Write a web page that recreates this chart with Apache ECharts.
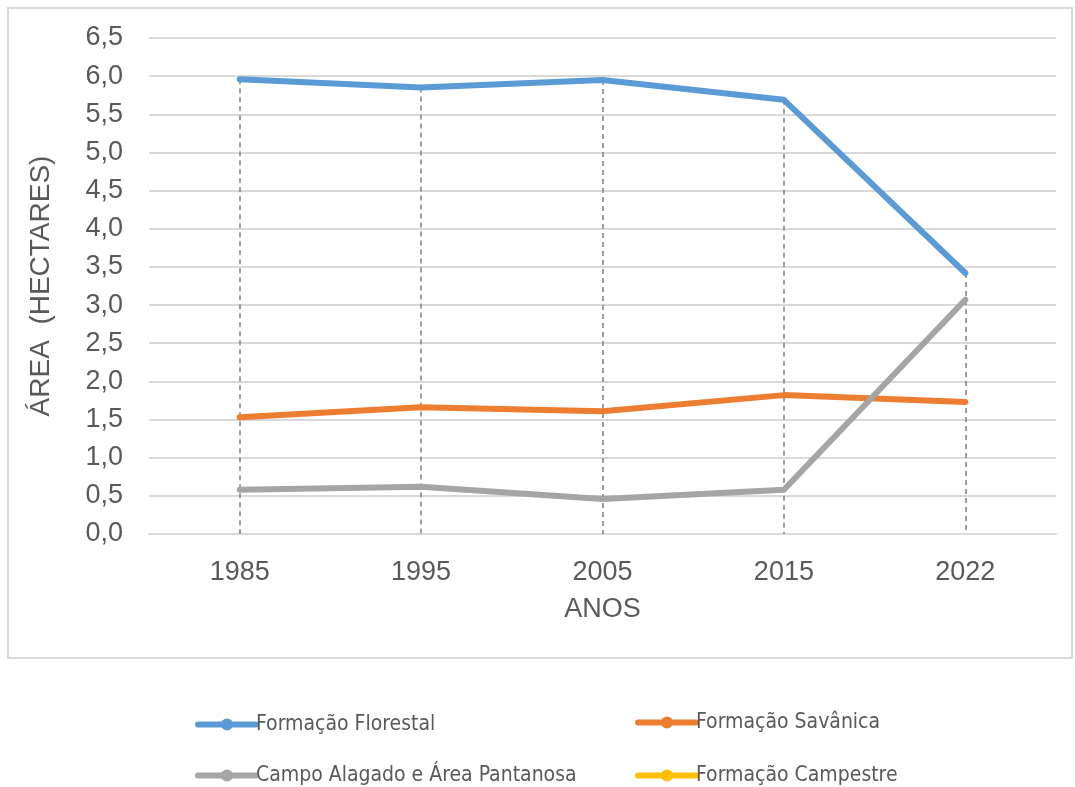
<!DOCTYPE html>
<html>
<head>
<meta charset="utf-8">
<script src="https://cdn.jsdelivr.net/npm/echarts@6/dist/echarts.min.js"></script>
<style>
  html, body { margin: 0; padding: 0; background: #fff; }
  #chart { width: 1075px; height: 787px; }
</style>
</head>
<body>
<div id="chart"></div>
<script>
// data
var anos = ["1985", "1995", "2005", "2015", "2022"];
var florestal = [5.96, 5.85, 5.95, 5.69, 3.42];
var savanica = [1.53, 1.66, 1.61, 1.82, 1.73];
var campo = [0.58, 0.62, 0.46, 0.58, 3.07];
var campestre = [null, null, null, null, null];
var yTicks = [0, 6.5, 0.5]; // min, max, interval

var chartDom = document.getElementById("chart");
var myChart = echarts.init(chartDom);

// drop lines go from the highest point of each year down to zero
var dropLines = anos.map(function(a, i) {
  var top = Math.max(florestal[i], savanica[i], campo[i]);
  return [{ coord: [i, top] }, { coord: [i, 0] }];
});

var textColor = "#595959";
var fontFam = "'Liberation Sans', Arial, sans-serif";
var legendFont = "'DejaVu Sans Condensed', 'Liberation Sans Narrow', sans-serif";

function lineSeries(name, data, color) {
  return {
    name: name,
    type: "line",
    data: data,
    symbol: "circle",
    symbolSize: 9,
    showSymbol: false,
    lineStyle: { width: 6, color: color, cap: "round", join: "round" },
    itemStyle: { color: color },
    z: 3,
  };
}

var blue = lineSeries("Formação Florestal", florestal, "#5B9BD5");
blue.markLine = {
  silent: true,
  symbol: "none",
  label: { show: false },
  lineStyle: { type: [5, 4], color: "#7f7f7f", width: 1.5 },
  data: dropLines,
  z: 1,
};

// one legend per entry so they sit in a 2x2 block like the original
function legendItem(name, left, top) {
  return {
    left: left,
    top: top,
    itemWidth: 58,
    itemHeight: 15,
    lineStyle: { width: 6 },
    textStyle: { color: textColor, fontSize: 21, fontFamily: legendFont, padding: [0, 0, 0, -5] },
    data: [name],
  };
}

var option = {
  backgroundColor: "#fff",
  animation: false,
  graphic: [
    {
      type: "rect",
      shape: { x: 8, y: 8, width: 1064, height: 650 },
      style: { fill: "none", stroke: "#d9d9d9", lineWidth: 2 },
      silent: true,
    },
  ],
  legend: [
    legendItem("Formação Florestal", 190, 709),
    legendItem("Campo Alagado e Área Pantanosa", 190, 760),
    legendItem("Formação Savânica", 630, 707),
    legendItem("Formação Campestre", 630, 760),
  ],
  grid: {
    left: 149,
    right: 19,
    top: 38,
    bottom: 253,
  },
  xAxis: {
    type: "category",
    data: anos,
    boundaryGap: true,
    name: "ANOS",
    nameLocation: "middle",
    nameGap: 62,
    nameTextStyle: { color: textColor, fontSize: 27, fontFamily: fontFam },
    axisLine: { show: true, lineStyle: { color: "#d9d9d9", width: 2 } },
    axisTick: { show: false },
    axisLabel: { color: textColor, fontSize: 27, fontFamily: fontFam, margin: 25 },
  },
  yAxis: {
    type: "value",
    min: yTicks[0],
    max: yTicks[1],
    interval: yTicks[2],
    name: "ÁREA  (HECTARES)",
    nameLocation: "middle",
    nameGap: 94,
    nameTextStyle: { color: textColor, fontSize: 28, fontFamily: fontFam },
    axisLine: { show: false },
    axisTick: { show: false },
    splitLine: { lineStyle: { color: "#d9d9d9", width: 2 } },
    axisLabel: {
      color: textColor,
      fontSize: 27,
      fontFamily: fontFam,
      margin: 26,
      formatter: function(v) {
        return v.toFixed(1).replace(".", ",");
      },
    },
  },
  series: [
    blue,
    lineSeries("Formação Savânica", savanica, "#ED7D31"),
    lineSeries("Campo Alagado e Área Pantanosa", campo, "#A5A5A5"),
    lineSeries("Formação Campestre", campestre, "#FFC000"),
  ],
};

myChart.setOption(option);
</script>
</body>
</html>
